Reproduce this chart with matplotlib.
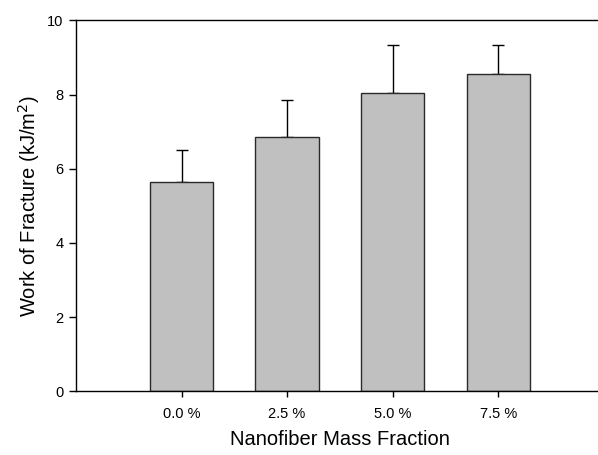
import matplotlib
matplotlib.use("Agg")
import matplotlib.pyplot as plt
import numpy as np

categories = ["0.0 %", "2.5 %", "5.0 %", "7.5 %"]
values = [5.65, 6.86, 8.04, 8.56]
err_up = [0.85, 0.98, 1.29, 0.77]
yticks = [0, 2, 4, 6, 8, 10]

plt.rcParams['font.family'] = ['Liberation Sans', 'DejaVu Sans']

fig = plt.figure(figsize=(5.98, 4.55), dpi=100)
ax = fig.add_axes([76/598, (455-391.3)/455, (603.8-76)/598, (391.3-20.3)/455])

x = np.arange(len(categories))
ax.bar(x, values, width=0.6, color='#c0c0c0', edgecolor='#2a2a2a', linewidth=1.0, zorder=2)
ax.errorbar(x, values, yerr=[np.zeros(len(values)), err_up], fmt='none',
            ecolor='black', elinewidth=1.0, capsize=4, capthick=1.0, zorder=1)

ax.set_xlim(-1, 4)
ax.set_ylim(0, 10)
ax.set_xticks(x)
ax.set_xticklabels(categories, fontsize=10.5)
ax.set_yticks(yticks)
ax.set_yticklabels([str(t) for t in yticks], fontsize=10.5)
ax.tick_params(axis='y', direction='out', length=5, width=1, pad=4)
ax.tick_params(axis='x', direction='out', length=4, width=1, pad=7)

ax.spines['right'].set_visible(False)
for s in ['top', 'bottom', 'left']:
    ax.spines[s].set_linewidth(1.0)
    ax.spines[s].set_color('black')

ax.set_xlabel("Nanofiber Mass Fraction", fontsize=14.5, labelpad=7)
ax.set_ylabel("Work of Fracture (kJ/m$^2$)", fontsize=14.5, labelpad=4)

fig.savefig("out.png", dpi=100)
